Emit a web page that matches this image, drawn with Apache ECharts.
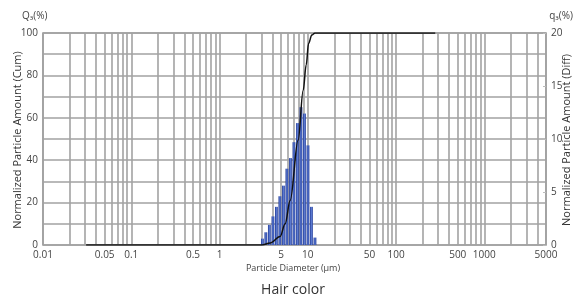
<!DOCTYPE html>
<html>
<head>
<meta charset="utf-8">
<script src="https://cdn.jsdelivr.net/npm/echarts@6/dist/echarts.min.js"></script>
<style>
  html, body { margin: 0; padding: 0; background: #fff; }
  #chart { width: 578px; height: 299px; }
</style>
</head>
<body>
<div id="chart"></div>
<script>
// particle diameter bins (um) and differential amount q3 (%)
const binDiameters = [3.06, 3.35, 3.67, 4.03, 4.41, 4.83, 5.30, 5.80, 6.36, 6.97, 7.64, 8.37, 9.17, 10.05, 11.0, 12.06];
const diffAmount = [0.6, 1.2, 1.9, 2.7, 3.6, 4.6, 5.6, 7.2, 8.2, 9.7, 11.5, 13.0, 12.4, 9.4, 3.6, 0.7];

// cumulative curve Q3 (%)
const cumDiameters = [0.0308, 3.0, 3.75, 4.86, 5.54, 6.31, 7.78, 8.87, 9.6, 10.2, 11.1, 12.1, 278];
const cumAmount = [0, 0, 1, 4, 10, 21, 49.5, 73, 85, 95, 99, 100, 100];

const xLabelValues = [0.01, 0.05, 0.1, 0.5, 1, 5, 10, 50, 100, 500, 1000, 5000];
const gridValues = [];
for (let e = -2; e <= 3; e++) {
  for (let m = 1; m <= 9; m++) {
    const v = +(m * Math.pow(10, e)).toPrecision(3);
    if (v <= 5000) gridValues.push(v);
  }
}

const FONT = 'Open Sans';
const GRID_COLOR = '#a2a2a2';

const chart = echarts.init(document.getElementById('chart'));
chart.setOption({
  animation: false,
  textStyle: { fontFamily: FONT },
  grid: { left: 43, right: 32, top: 33, bottom: 54, show: true, borderColor: '#999', borderWidth: 1.6 },
  xAxis: {
    type: 'log',
    logBase: 10,
    min: 0.01,
    max: 5000,
    axisLine: { show: false },
    axisTick: { show: false, customValues: gridValues },
    splitLine: { show: true, lineStyle: { color: GRID_COLOR, width: 1.6 } },
    axisLabel: {
      customValues: xLabelValues,
      color: '#444',
      fontSize: 10,
      margin: 5,
      formatter: (v) => String(+v.toPrecision(3)),
    },
  },
  yAxis: [
    {
      type: 'value',
      min: 0,
      max: 100,
      interval: 10,
      axisLine: { show: false },
      axisTick: { show: false },
      splitLine: { show: true, lineStyle: { color: GRID_COLOR, width: 1.6 } },
      axisLabel: {
        color: '#444',
        fontSize: 10,
        margin: 5,
        formatter: (v) => (v % 20 === 0 ? String(v) : ''),
      },
    },
    {
      type: 'value',
      min: 0,
      max: 20,
      interval: 5,
      axisLine: { show: false },
      axisTick: { show: true, inside: true, length: 3, lineStyle: { color: '#bbb' } },
      splitLine: { show: false },
      axisLabel: { color: '#444', fontSize: 10, margin: 5 },
    },
  ],
  series: [
    {
      type: 'bar',
      yAxisIndex: 1,
      barWidth: 2.8,
      itemStyle: {
        color: new echarts.graphic.LinearGradient(0, 0, 1, 0, [
          { offset: 0, color: '#1d3694' },
          { offset: 0.5, color: '#5c7bd2' },
          { offset: 1, color: '#1d3694' },
        ]),
      },
      data: binDiameters.map((d, i) => [d, diffAmount[i]]),
      z: 3,
    },
    {
      type: 'line',
      yAxisIndex: 0,
      smooth: 0.35,
      smoothMonotone: 'x',
      symbol: 'none',
      lineStyle: { color: '#111', width: 1.5 },
      data: cumDiameters.map((d, i) => [d, cumAmount[i]]),
      z: 4,
    },
  ],
  graphic: [
    { type: 'text', left: 22, top: 11, style: { text: 'Q₃(%)', font: '10px "Open Sans"', fill: '#444' } },
    { type: 'text', right: 5, top: 11, style: { text: 'q₃(%)', font: '10px "Open Sans"', fill: '#444' } },
    {
      type: 'text', x: 18, y: 140, rotation: Math.PI / 2,
      style: { text: 'Normalized Particle Amount (Cum)', font: '11px "Open Sans"', fill: '#333', align: 'center', verticalAlign: 'middle' },
    },
    {
      type: 'text', x: 567, y: 140, rotation: Math.PI / 2,
      style: { text: 'Normalized Particle Amount (Diff)', font: '11px "Open Sans"', fill: '#333', align: 'center', verticalAlign: 'middle' },
    },
    {
      type: 'text', x: 293, y: 268,
      style: { text: 'Particle Diameter (μm)', font: '9px "Open Sans"', fill: '#444', align: 'center', verticalAlign: 'middle' },
    },
    {
      type: 'text', x: 293, y: 290,
      style: { text: 'Hair color', font: '14px "Open Sans"', fill: '#333', align: 'center', verticalAlign: 'middle' },
    },
  ],
});
</script>
</body>
</html>
